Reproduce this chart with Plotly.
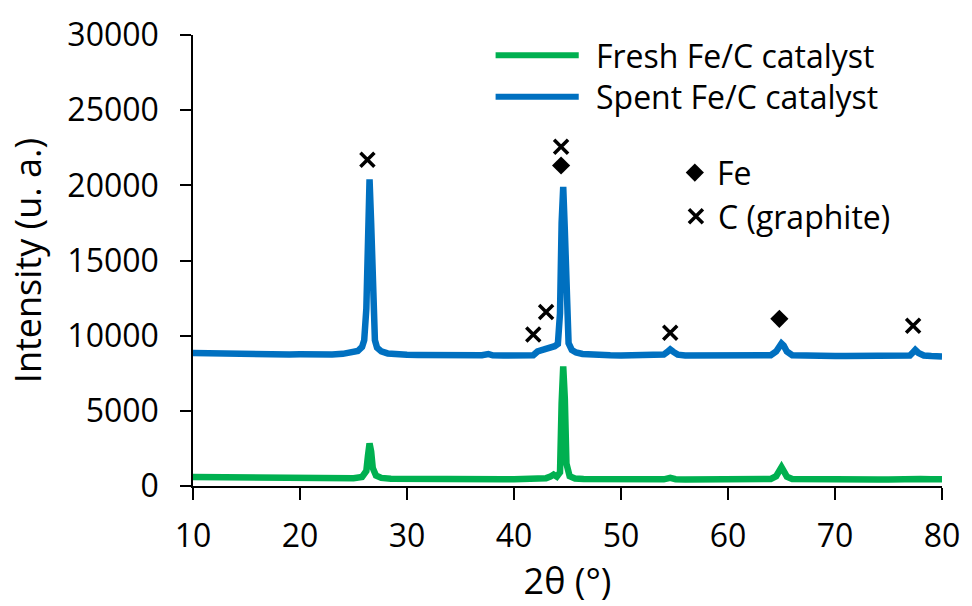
import plotly.graph_objects as go

# ---- data ----
tt_spent = [10, 11, 12, 13, 14, 15, 16, 17, 18, 19, 20, 21, 22, 23, 24, 24.8, 25.4, 25.8, 26.0, 26.2, 26.35, 26.5, 26.65,
            26.8, 27.0, 27.2, 27.6, 28.2, 29, 30, 31, 32, 33, 34, 35, 36, 37, 37.6, 38, 39, 40, 41, 41.8, 42.2, 42.6,
            43.0, 43.4, 43.8, 44.1, 44.3, 44.45, 44.6, 44.75, 44.9, 45.1, 45.4, 45.8, 46.4, 47, 48, 49, 50, 51, 52, 53,
            54, 54.3, 54.6, 54.9, 55.3, 56, 57, 58, 59, 60, 61, 62, 63, 64, 64.5, 64.8, 65.0, 65.2, 65.5, 66, 67, 68, 69,
            70, 71, 72, 73, 74, 75, 76, 77, 77.3, 77.5, 77.8, 78.3, 79, 80]
int_spent = [8850, 8830, 8840, 8800, 8810, 8780, 8790, 8760, 8770, 8750, 8760, 8740, 8760, 8750, 8790, 8850, 8980, 9250,
             9700, 11800, 17000, 20400, 17500, 12000, 9700, 9200, 8950, 8820, 8760, 8730, 8720, 8700, 8710, 8690, 8700,
             8680, 8700, 8780, 8690, 8680, 8690, 8670, 8700, 8950, 9050, 9080, 9150, 9300, 9450, 11500, 17500, 19900,
             17000, 11500, 9500, 9050, 8880, 8780, 8740, 8700, 8690, 8680, 8690, 8680, 8700, 8740, 8900, 9080, 8920, 8740,
             8680, 8670, 8660, 8670, 8650, 8660, 8650, 8660, 8700, 8950, 9350, 9480, 9350, 8950, 8700, 8660, 8650, 8650,
             8640, 8650, 8640, 8640, 8630, 8640, 8630, 8680, 8900, 9050, 8850, 8680, 8640, 8620]

tt_fresh = [10, 11, 12, 13, 14, 15, 16, 17, 18, 19, 20, 21, 22, 23, 24, 25, 25.8, 26.2, 26.35, 26.5, 26.65, 26.8, 27.1,
            27.6, 28.5, 30, 31, 32, 33, 34, 35, 36, 37, 38, 39, 40, 41, 42, 43, 43.4, 43.7, 44.0, 44.3, 44.45, 44.6,
            44.75, 44.9, 45.2, 45.7, 46.5, 48, 49, 50, 51, 52, 53, 54, 54.6, 55.1, 56, 57, 58, 59, 60, 61, 62, 63, 64,
            64.5, 64.8, 65.0, 65.2, 65.5, 66, 67, 68, 69, 70, 71, 72, 73, 74, 75, 76, 77, 77.5, 78, 79, 80]
int_fresh = [600, 590, 600, 580, 585, 570, 575, 560, 560, 550, 545, 535, 530, 520, 510, 520, 600, 1000, 2000, 2830, 2300,
             1200, 700, 540, 490, 470, 460, 455, 450, 445, 450, 440, 445, 440, 445, 450, 445, 460, 520, 620, 760, 620,
             900, 5500, 7960, 5800, 1500, 650, 500, 460, 445, 440, 440, 500, 440, 440, 445, 540, 450, 440, 440, 440, 445,
             440, 440, 440, 445, 470, 650, 1050, 1250, 1000, 620, 460, 445, 440, 445, 440, 440, 445, 440, 440, 440, 445,
             480, 560, 470, 450, 450]

# phase markers
graphite_x = [26.3, 44.4, 41.8, 43.0, 54.6, 77.3]
graphite_y = [21700, 22570, 10070, 11580, 10200, 10660]
fe_x = [44.4, 64.8]
fe_y = [21320, 11120]

# marker key (Fe / C)
key_x = [56.9, 57.0]
key_y = [20850, 17950]
key_labels = ["Fe", "C (graphite)"]

series_names = ["Fresh Fe/C catalyst", "Spent Fe/C catalyst"]
GREEN = "#00B050"
BLUE = "#0070C0"
FONT = "Open Sans"

fig = go.Figure()
fig.add_trace(go.Scatter(x=tt_fresh, y=int_fresh, mode="lines", line=dict(color=GREEN, width=6.5),
                         name=series_names[0], showlegend=False))
fig.add_trace(go.Scatter(x=tt_spent, y=int_spent, mode="lines", line=dict(color=BLUE, width=6.5),
                         name=series_names[1], showlegend=False))
fig.add_trace(go.Scatter(x=graphite_x, y=graphite_y, mode="markers",
                         marker=dict(symbol="x-thin", size=14, line=dict(color="black", width=3.5)),
                         showlegend=False))
fig.add_trace(go.Scatter(x=fe_x, y=fe_y, mode="markers",
                         marker=dict(symbol="diamond", size=14, color="black"), showlegend=False))
fig.add_trace(go.Scatter(x=key_x[:1], y=key_y[:1], mode="markers",
                         marker=dict(symbol="diamond", size=14, color="black"), showlegend=False))
fig.add_trace(go.Scatter(x=key_x[1:], y=key_y[1:], mode="markers",
                         marker=dict(symbol="x-thin", size=14, line=dict(color="black", width=3.5)),
                         showlegend=False))
for kx, ky, lab in zip(key_x, key_y, key_labels):
    fig.add_annotation(x=kx, y=ky, text=lab, showarrow=False, xanchor="left", xshift=20,
                       font=dict(family=FONT, size=32, color="black"))

# line legend (drawn manually to match the long sample lines)
for i, (name, col) in enumerate(zip(series_names, [GREEN, BLUE])):
    yy = 0.955 - i * 0.092
    fig.add_shape(type="line", xref="paper", yref="paper", x0=0.404, x1=0.515, y0=yy, y1=yy,
                  line=dict(color=col, width=6))
    fig.add_annotation(xref="paper", yref="paper", x=0.535, y=yy, text=name, showarrow=False,
                       xanchor="left", yanchor="middle", font=dict(family=FONT, size=32, color="black"))

fig.update_layout(
    width=972, height=606,
    margin=dict(l=193, r=24, t=31, b=118),
    paper_bgcolor="white", plot_bgcolor="white",
    font=dict(family=FONT, size=30, color="black"),
    showlegend=False,
    xaxis_title_text="2θ (°)",
    yaxis_title_text="Intensity (u. a.)",
)
fig.update_xaxes(range=[10, 80], tickvals=[10, 20, 30, 40, 50, 60, 70, 80], showgrid=False, zeroline=False,
                 showline=True, linecolor="black", linewidth=1.5, ticks="outside", ticklen=12, tickwidth=1.5,
                 tickcolor="black", ticklabeloverflow="allow", title_standoff=13,
                 tickfont=dict(family=FONT, size=32, color="black"), ticklabelstandoff=9)
fig.update_yaxes(range=[0, 30000], tickvals=[0, 5000, 10000, 15000, 20000, 25000, 30000], showgrid=False,
                 zeroline=False, showline=True, linecolor="black", linewidth=1.5, ticks="outside", ticklen=11,
                 tickwidth=1.5, tickcolor="black", title_standoff=15,
                 tickfont=dict(family=FONT, size=32, color="black"), tickformat="d", ticklabelstandoff=15)

fig.write_html("out.html")
